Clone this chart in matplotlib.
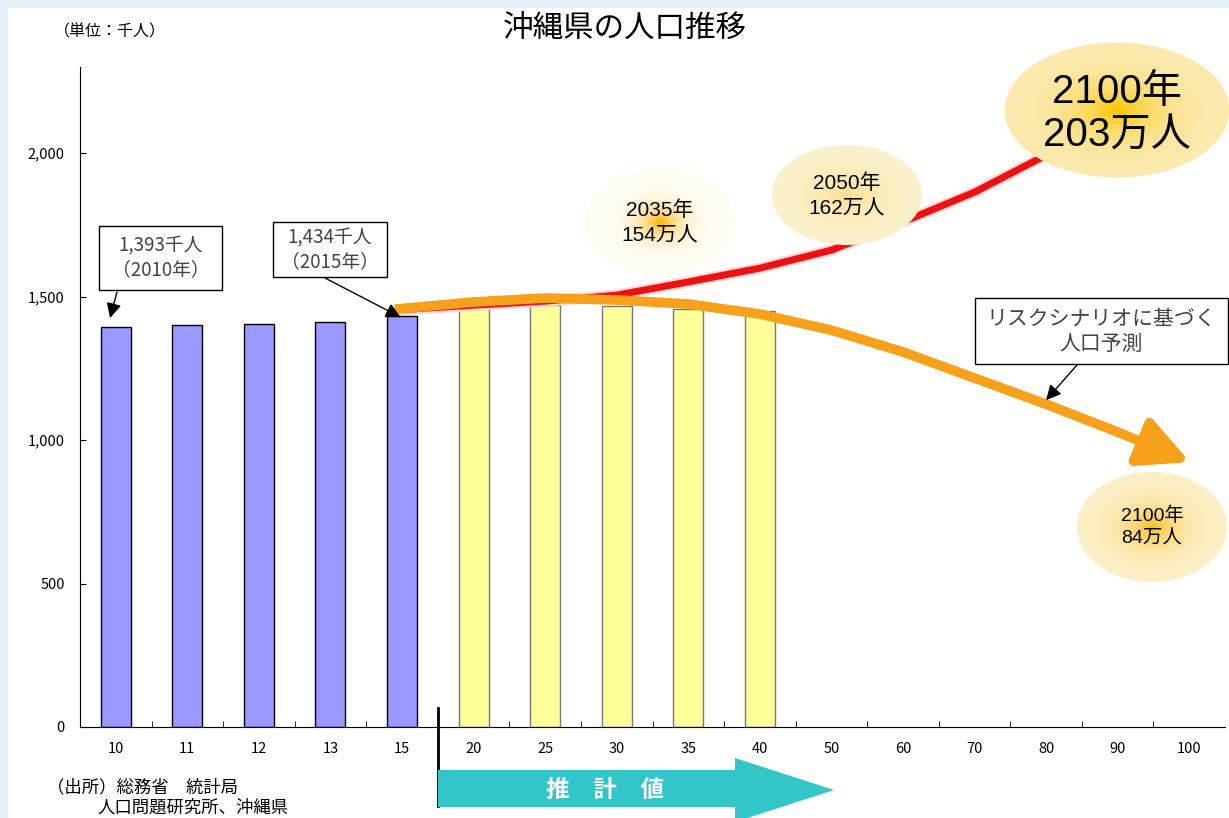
import numpy as np
import matplotlib
matplotlib.use("Agg")
import matplotlib.pyplot as plt
from matplotlib.patches import Rectangle, Ellipse, Polygon
from matplotlib.transforms import Affine2D
from matplotlib.colors import to_rgb
from matplotlib.ticker import FuncFormatter

plt.rcParams['font.family'] = ['Noto Sans CJK JP', 'DejaVu Sans']
LATIN = ['Liberation Sans', 'Noto Sans CJK JP']

# data (千人)
years = ['10', '11', '12', '13', '15', '20', '25', '30', '35', '40',
         '50', '60', '70', '80', '90', '100']
actual = [1393, 1402, 1406, 1410, 1434]
projected = [1460, 1470, 1467, 1456, 1449]

# decorative scenario curves (x = category position)
red_x = [3.9, 5, 6, 7, 8, 9, 10, 11, 12, 13, 13.4]
red_y = [1453, 1470, 1484, 1505, 1551, 1599, 1662, 1760, 1864, 1993, 2045]
orange_x = [3.9, 5, 6, 7, 8, 9, 10, 11, 12, 13, 14]
orange_y = [1456, 1481, 1495, 1488, 1474, 1439, 1383, 1307, 1216, 1125, 1028]
orange_tip = (15.01, 923)

W, H = 1229, 818
fig = plt.figure(figsize=(W / 100, H / 100), dpi=100, facecolor='#e6f1fb')
pix = Affine2D().scale(1 / W, -1 / H).translate(0, 1) + fig.transFigure

fig.add_artist(Rectangle((8, 8), W, H, transform=pix, facecolor='white',
                         edgecolor='none', zorder=-10))

ax = fig.add_axes([80 / W, 91 / H, 1145 / W, 660 / H])
ax.set_facecolor('none')
n = len(years)
idx = np.arange(n)

ax.bar(idx[:len(actual)], actual, width=0.42, color='#9999ff',
       edgecolor='black', lw=1, zorder=2)
ax.bar(idx[len(actual):len(actual) + len(projected)], projected, width=0.42,
       color='#ffff99', edgecolor='#777777', lw=1, zorder=2)

ax.plot(red_x, red_y, color='#ffd6d6', lw=8, solid_capstyle='butt', zorder=3)
ax.plot(red_x, red_y, color='#ee1111', lw=5, solid_capstyle='butt', zorder=3)
orange = '#f7a11a'
ax.plot(orange_x, orange_y, color=orange, lw=7, solid_capstyle='butt', zorder=4)
ax.annotate('', xy=orange_tip, xytext=(orange_x[-1], orange_y[-1]),
            arrowprops=dict(arrowstyle='-|>,head_length=1.0,head_width=0.5',
                            color=orange, lw=7, mutation_scale=30,
                            shrinkA=0, shrinkB=0),
            zorder=4)

ax.set_xlim(-0.5, n - 0.5)
ax.set_ylim(0, 2300)
ax.set_xticks(idx)
ax.set_xticklabels(years)
ax.set_xticks(idx[:-1] + 0.5, minor=True)
ax.tick_params(axis='x', which='major', length=0, pad=11, labelsize=10.5)
ax.tick_params(axis='x', which='minor', direction='in', length=4)
ax.set_yticks([0, 500, 1000, 1500, 2000])
ax.yaxis.set_major_formatter(FuncFormatter(lambda v, p: f'{int(v):,}'))
ax.tick_params(axis='y', direction='in', length=4, pad=11, labelsize=10.5)
for s in ['top', 'right']:
    ax.spines[s].set_visible(False)
ax.spines['bottom'].set_bounds(-0.5, n - 0.5)

# callout boxes
boxes = [((99, 226, 123, 64), '1,393千人\n（2010年）', (117, 292), (-0.08, 1425), 13.5),
         ((273, 222, 114, 55), '1,434千人\n（2015年）', (325, 278), (3.98, 1428), 13.5),
         ((975, 298, 253, 66), 'リスクシナリオに基づく\n人口予測', (1077, 365), (13.0, 1139), 15)]
for (x0, y0, bw, bh), label, start, target, fs in boxes:
    fig.add_artist(Rectangle((x0, y0), bw, bh, transform=pix, facecolor='white',
                             edgecolor='black', lw=1, zorder=4))
    fig.text(x0 + bw / 2, y0 + bh / 2, label, transform=pix, ha='center',
             va='center', fontsize=fs, linespacing=1.2, color='#444444',
             zorder=6)
    ax.annotate('', xy=target, xytext=start, textcoords=pix,
                arrowprops=dict(arrowstyle='-|>,head_length=0.6,head_width=0.3',
                                color='black', lw=1, mutation_scale=15,
                                shrinkA=0, shrinkB=0), zorder=5)


def glow(cx, cy, w, h, outer, inner, gamma, steps=50):
    co = np.array(to_rgb(outer))
    ci = np.array(to_rgb(inner))
    for i in range(steps):
        s = 1 - i / steps
        t = (i / (steps - 1)) ** gamma
        fig.add_artist(Ellipse((cx, cy), w * s, h * s, transform=pix,
                               facecolor=co + (ci - co) * t, edgecolor='none',
                               zorder=5))


glow(660, 222, 150, 110, '#fffcf4', '#fbb400', 4)
glow(847, 195, 150, 100, '#faf0cb', '#fbe090', 2)
glow(1117, 110, 225, 135, '#fbe9ad', '#fac600', 2.5)
glow(1152, 527, 150, 110, '#fcefc6', '#f9c228', 2.5)

fig.text(660, 223, '2035年\n154万人', transform=pix, ha='center', va='center',
         fontsize=15, linespacing=1.4, family=LATIN, zorder=6)
fig.text(847, 196, '2050年\n162万人', transform=pix, ha='center', va='center',
         fontsize=15, linespacing=1.4, family=LATIN, zorder=6)
fig.text(1117, 113, '2100年\n203万人', transform=pix, ha='center', va='center',
         fontsize=29, linespacing=1.15, family=LATIN, zorder=6)
fig.text(1152, 527, '2100年\n84万人', transform=pix, ha='center', va='center',
         fontsize=14, linespacing=1.4, family=LATIN, zorder=6)

# 推計値 band
ax.plot([4.5, 4.5], [0.029, -0.12], transform=ax.get_xaxis_transform(),
        color='black', lw=2, clip_on=False, zorder=6)
fig.add_artist(Polygon([(438, 770), (735, 770), (735, 758), (834, 790),
                        (735, 822), (735, 807), (438, 807)], closed=True,
                       transform=pix, facecolor='#33c6c9', edgecolor='none',
                       zorder=4))
fig.text(605, 790, '推　計　値', transform=pix, ha='center', va='center',
         fontsize=17, color='white', fontweight='bold', zorder=6)

fig.text(625, 28, '沖縄県の人口推移', transform=pix, ha='center', va='center',
         fontsize=22, zorder=6)
fig.text(110, 32, '（単位：千人）', transform=pix, ha='center', va='center',
         fontsize=11.5, zorder=6)
fig.text(47, 787, '（出所）総務省　統計局', transform=pix, ha='left', va='center',
         fontsize=12.5, zorder=6)
fig.text(97, 808, '人口問題研究所、沖縄県', transform=pix, ha='left', va='center',
         fontsize=12.5, zorder=6)

fig.savefig('out.png', dpi=100, facecolor=fig.get_facecolor())
